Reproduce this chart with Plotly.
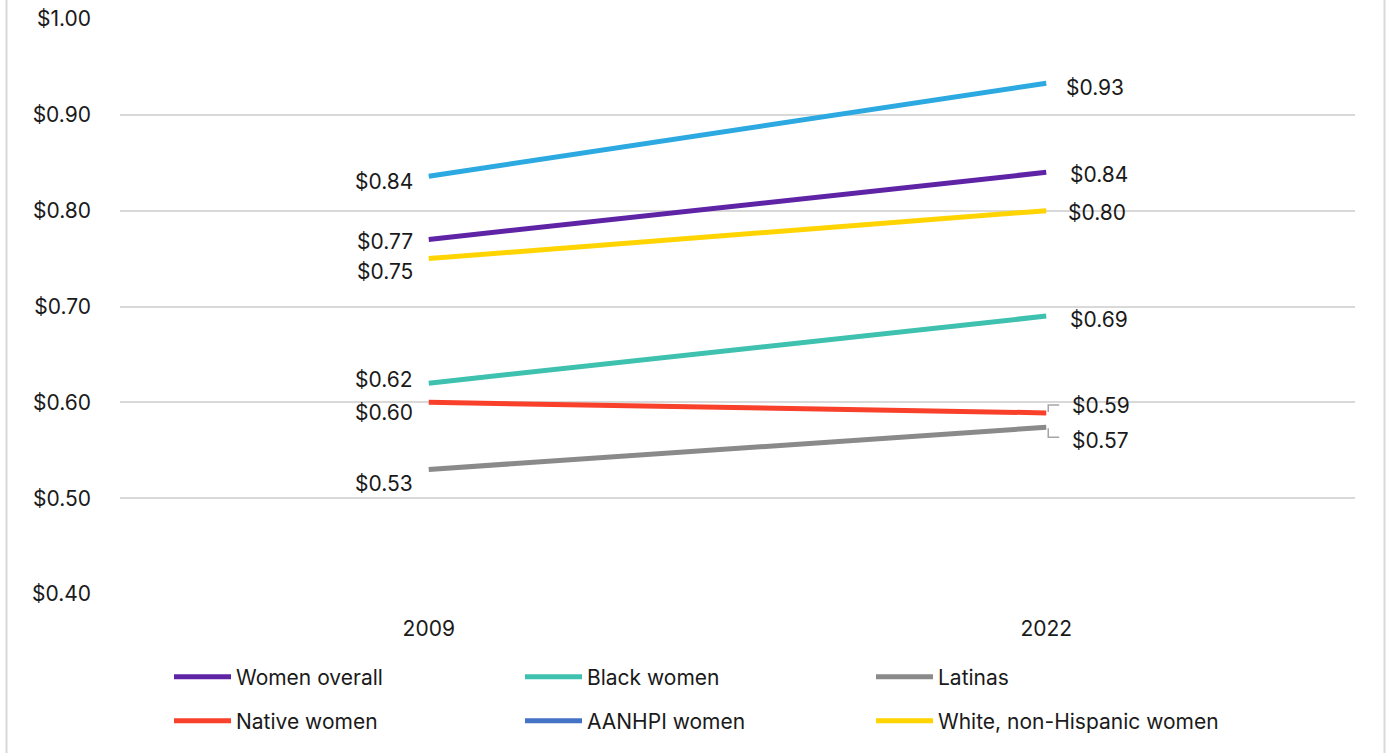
import plotly.graph_objects as go

years = ["2009", "2022"]
series_names = ["Women overall", "Black women", "Latinas", "Native women", "AANHPI women", "White, non-Hispanic women"]
women_overall = [0.77, 0.84]
black_women = [0.62, 0.69]
latinas = [0.53, 0.574]
native_women = [0.60, 0.589]
aanhpi_women = [0.836, 0.933]
white_women = [0.75, 0.80]
y_ticks = [0.40, 0.50, 0.60, 0.70, 0.80, 0.90, 1.00]

values = [women_overall, black_women, latinas, native_women, aanhpi_women, white_women]
line_colors = ["#5F24A6", "#3EC1AE", "#8A8A8A", "#F9402B", "#2BA9E0", "#FFD400"]
legend_colors = ["#5F24A6", "#3EC1AE", "#8A8A8A", "#F9402B", "#4472C4", "#FFD400"]
# pixel offsets for labels (left label, right label)
left_yshift = [-2, 4, -14, -10, -5, -13]
right_yshift = [-2, -3, -13, 7, -4, -2]
right_xshift = [22, 22, 24, 24, 18, 20]

FONT = "Inter"
TXT = "#1a1a1a"
FS = 21
fig = go.Figure()

for name, vals, col in zip(series_names, values, line_colors):
    fig.add_trace(go.Scatter(x=years, y=vals, mode="lines", line=dict(color=col, width=5),
                             showlegend=False, hoverinfo="skip"))
for i, (name, col) in enumerate(zip(series_names, legend_colors)):
    fig.add_trace(go.Scatter(x=[None], y=[None], mode="lines", name=name,
                             line=dict(color=col, width=5),
                             legend="legend" if i < 3 else "legend2"))

for i, vals in enumerate(values):
    fig.add_annotation(x=0, y=vals[0], text=f"${vals[0]:.2f}", showarrow=False,
                       xanchor="right", xshift=-14, yshift=left_yshift[i],
                       font=dict(family=FONT, size=FS, color=TXT))
    fig.add_annotation(x=1, y=vals[1], text=f"${vals[1]:.2f}", showarrow=False,
                       xanchor="left", xshift=right_xshift[i], yshift=right_yshift[i],
                       font=dict(family=FONT, size=FS, color=TXT))

# leader lines for the two close labels
fig.add_shape(type="path", xref="x", yref="y", xsizemode="pixel", ysizemode="pixel",
              xanchor=1, yanchor=native_women[1], path="M 2 1 L 2 8 L 13 8",
              line=dict(color="#A6A6A6", width=1.5))
fig.add_shape(type="path", xref="x", yref="y", xsizemode="pixel", ysizemode="pixel",
              xanchor=1, yanchor=latinas[1], path="M 2 -1 L 2 -10 L 13 -10",
              line=dict(color="#A6A6A6", width=1.5))

# outer frame
fig.add_shape(type="rect", xref="paper", yref="paper", x0=(6.5 - 120) / 1235, x1=(1384.5 - 120) / 1235,
              y0=-0.5, y1=1.5, line=dict(color="#D9D9D9", width=2), fillcolor="rgba(0,0,0,0)", layer="below")

leg_common = dict(orientation="h", xanchor="left", yanchor="middle",
                  entrywidth=279, entrywidthmode="pixels", itemwidth=57,
                  font=dict(family=FONT, size=FS, color=TXT), bgcolor="rgba(0,0,0,0)")

fig.update_layout(
    width=1387, height=753,
    margin=dict(l=120, r=32, t=19, b=159, autoexpand=False),
    paper_bgcolor="white", plot_bgcolor="white",
    font=dict(family=FONT, size=FS, color=TXT),
    xaxis=dict(type="category", range=[-0.5, 1.5], showgrid=False, zeroline=False, showline=False,
               ticks="", ticklabelstandoff=20, tickfont=dict(size=FS)),
    yaxis=dict(range=[0.40, 1.00], tickvals=y_ticks, ticktext=[f"${v:.2f}" for v in y_ticks],
               showgrid=True, gridcolor="#D9D9D9", gridwidth=1.5, zeroline=False, showline=False,
               ticks="", ticklabelstandoff=28, tickfont=dict(size=FS)),
    legend=dict(x=(169 - 120) / 1235, y=(594 - 677) / 575, **leg_common),
    legend2=dict(x=(169 - 120) / 1235, y=(594 - 721) / 575, **leg_common),
    showlegend=True,
)

fig.write_html("out.html")
